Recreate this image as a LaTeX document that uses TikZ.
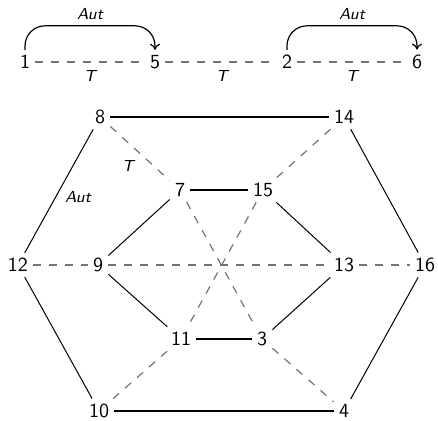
\documentclass[tikz,border=0pt]{standalone}
\usetikzlibrary{arrows.meta}
\begin{document}
\begin{tikzpicture}[x=0.5pt,y=-0.5pt, font=\sffamily,
  v/.style={inner sep=2.5pt},
  sol/.style={draw=black, line width=0.5pt},
  rung/.style={draw=black, line width=0.9pt},
  dsh/.style={draw=black!55, line width=0.6pt, dash pattern=on 4pt off 4pt},
  lbl/.style={font=\sffamily\itshape\footnotesize, inner sep=1pt},
  autarc/.style={draw=black, line width=0.6pt, rounded corners=10pt, -{To[length=3pt,width=5pt]}}]
\useasboundingbox (0,0) rectangle (438,420);
% top row
\node[v] (n1) at (25,62) {1};
\node[v] (n5) at (155,62) {5};
\node[v] (n2) at (287,62) {2};
\node[v] (n6) at (417,62) {6};
\draw[dsh] (n1) -- (n5);
\draw[dsh] (n5) -- (n2);
\draw[dsh] (n2) -- (n6);
\node[lbl] (t1) at (90,76) {T};
\node[lbl] (t2) at (222,76) {T};
\node[lbl] (t3) at (352,76) {T};
\draw[autarc] (n1.north) -- ++(0,12pt) -| (n5.north);
\draw[autarc] (n2.north) -- ++(0,12pt) -| (n6.north);
\node[lbl] (a1) at (90,14) {Aut};
\node[lbl] (a2) at (352,14) {Aut};
% hexagon graph
\node[v] (n8) at (100,117) {8};
\node[v] (n14) at (344,117) {14};
\node[v] (n7) at (180,190) {7};
\node[v] (n15) at (263,190) {15};
\node[v] (n12) at (18,265) {12};
\node[v] (n9) at (98,265) {9};
\node[v] (n13) at (344,265) {13};
\node[v] (n16) at (425,265) {16};
\node[v] (n11) at (181,339) {11};
\node[v] (n3) at (262,339) {3};
\node[v] (n10) at (99,411) {10};
\node[v] (n4) at (344,411) {4};
% solid
\draw[rung] (n8) -- (n14);
\draw[rung] (n7) -- (n15);
\draw[rung] (n11) -- (n3);
\draw[rung] (n10) -- (n4);
\draw[sol] (n8) -- (n12);
\draw[sol] (n12) -- (n10);
\draw[sol] (n14) -- (n16);
\draw[sol] (n16) -- (n4);
\draw[sol] (n7) -- (n9);
\draw[sol] (n9) -- (n11);
\draw[sol] (n15) -- (n13);
\draw[sol] (n13) -- (n3);
% dashed
\draw[dsh] (n8) -- (n7);
\draw[dsh] (n7) -- (n3);
\draw[dsh] (n3) -- (n4);
\draw[dsh] (n14) -- (n15);
\draw[dsh] (n15) -- (n11);
\draw[dsh] (n11) -- (n10);
\draw[dsh] (n12) -- (n9);
\draw[dsh] (n9) -- (n13);
\draw[dsh] (n13) -- (n16);
\node[lbl] (t4) at (128,166) {T};
\node[lbl] (a3) at (78,197) {Aut};
\end{tikzpicture}
\end{document}
